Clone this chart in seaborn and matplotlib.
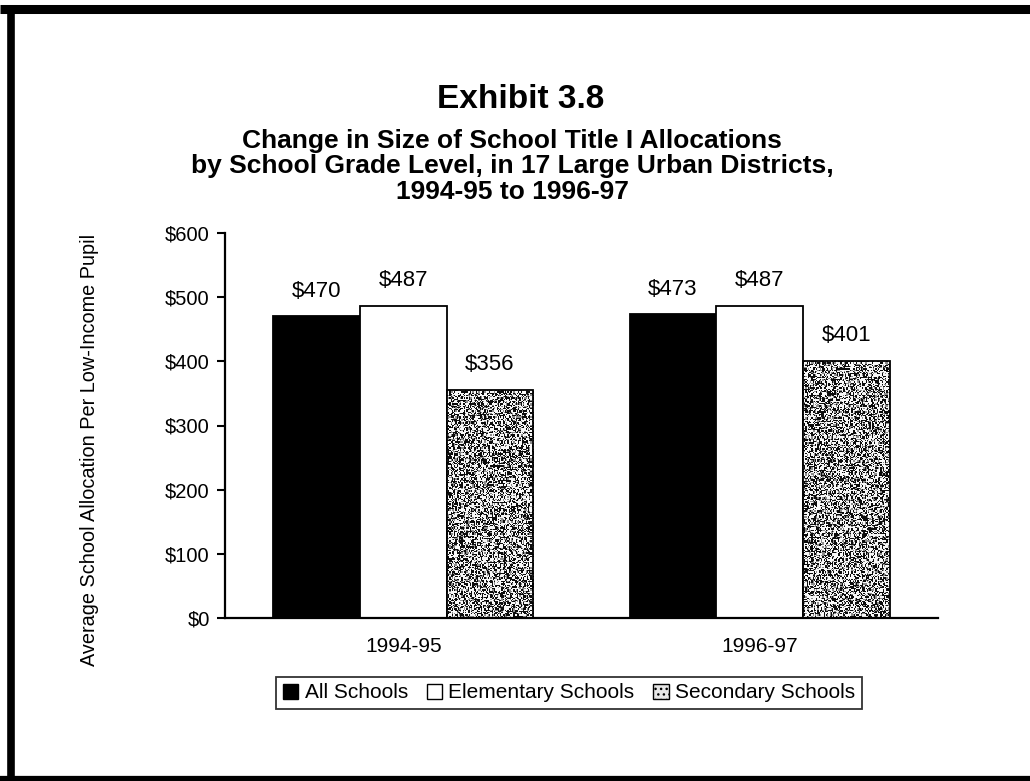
import numpy as np
import pandas as pd
import matplotlib
matplotlib.use("Agg")
import matplotlib.pyplot as plt
from matplotlib.lines import Line2D
from matplotlib.patches import Patch
import seaborn as sns

# Chart data
years = ["1994-95", "1996-97"]
school_types = ["All Schools", "Elementary Schools", "Secondary Schools"]
all_schools = [470, 473]
elementary = [487, 487]
secondary = [356, 401]
y_ticks = [0, 100, 200, 300, 400, 500, 600]

df = pd.DataFrame({
    "Year": years * 3,
    "Type": [school_types[0]] * 2 + [school_types[1]] * 2 + [school_types[2]] * 2,
    "Value": all_schools + elementary + secondary,
})

sns.set_theme(style="white")
plt.rcParams["font.family"] = ["Liberation Sans", "DejaVu Sans"]
plt.rcParams.update({"text.color": "black", "axes.labelcolor": "black",
                     "xtick.color": "black", "ytick.color": "black"})

W, H = 1030, 781
fig = plt.figure(figsize=(W / 100, H / 100), dpi=100)
ax = fig.add_axes([225 / W, 1 - 618 / H, (938 - 225) / W, (618 - 233) / H])

palette = {school_types[0]: "black", school_types[1]: "white", school_types[2]: "#b8b8b8"}
sns.barplot(data=df, x="Year", y="Value", hue="Type", hue_order=school_types,
            order=years, palette=palette, width=0.73, edgecolor="black",
            linewidth=1.3, saturation=1, ax=ax, legend=False)

# Fine speckled grey texture for the secondary-school bars
rng = np.random.default_rng(7)
n_per = len(years)
for i, bar in enumerate(ax.patches):
    if i // n_per == 2:
        x0, y0 = bar.get_x(), bar.get_y()
        w, h = bar.get_width(), bar.get_height()
        rows = int(h * 0.642 / 1.2) + 2
        noise = rng.random((rows, 72))
        tex = np.where(noise < 0.40, 0.05, np.where(noise < 0.55, 0.55, 0.97))
        im = ax.imshow(tex, cmap="gray", vmin=0, vmax=1, extent=(x0, x0 + w, y0, y0 + h),
                       aspect="auto", interpolation="nearest", zorder=bar.get_zorder() + 0.1)
        im.set_clip_path(bar)
        bar.set_facecolor("none")
        bar.set_zorder(bar.get_zorder() + 0.2)

# Value labels above each bar
for i, bar in enumerate(ax.patches):
    val = bar.get_height()
    ax.text(bar.get_x() + bar.get_width() / 2, val + 39, f"${val:.0f}",
            ha="center", va="center", fontsize=16)

ax.set_xlim(-0.5, 1.5)
ax.set_ylim(0, 600)
ax.set_yticks(y_ticks)
ax.set_yticklabels([f"${v}" for v in y_ticks], fontsize=14.5)
ax.tick_params(axis="y", direction="out", length=6, width=1.5, left=True, pad=5)
ax.tick_params(axis="x", length=0, pad=14, labelsize=15)
ax.set_xlabel("")
ax.set_ylabel("")
for s in ["top", "right"]:
    ax.spines[s].set_visible(False)
for s in ["left", "bottom"]:
    ax.spines[s].set_color("black")
    ax.spines[s].set_linewidth(1.6)

fig.text(90 / W, 1 - 450 / H, "Average School Allocation Per Low-Income Pupil",
         rotation=90, ha="center", va="center", fontsize=14.3)

# Titles
fig.text(521 / W, 1 - 100 / H, "Exhibit 3.8", ha="center", va="center",
         fontsize=24, fontweight="bold")
subtitle = ["Change in Size of School Title I Allocations",
            "by School Grade Level, in 17 Large Urban Districts,",
            "1994-95 to 1996-97"]
for k, line in enumerate(subtitle):
    fig.text(512 / W, 1 - (141 + 25.5 * k) / H, line, ha="center", va="center",
             fontsize=19, fontweight="bold")

# Legend
handles = [
    Patch(facecolor="black", edgecolor="black", linewidth=1),
    Patch(facecolor="white", edgecolor="black", linewidth=1),
    Patch(facecolor="#e6e6e6", edgecolor="black", linewidth=1, hatch="..."),
]
leg = fig.legend(handles, school_types, loc="center", bbox_to_anchor=(569 / W, 1 - 693 / H),
                 ncol=3, frameon=True, fancybox=False, edgecolor="black", fontsize=15,
                 handlelength=0.75, handleheight=0.75, handletextpad=0.3, columnspacing=0.9,
                 borderpad=0.3, borderaxespad=0)
leg.get_frame().set_linewidth(1.3)

# Page frame
fig.add_artist(Line2D([0, 1], [1 - 9 / H, 1 - 9 / H], color="black", linewidth=6.5,
                      transform=fig.transFigure, solid_capstyle="butt"))
fig.add_artist(Line2D([11 / W, 11 / W], [0, 1 - 5 / H], color="black", linewidth=5.5,
                      transform=fig.transFigure, solid_capstyle="butt"))
fig.add_artist(Line2D([0, 1], [2.5 / H, 2.5 / H], color="black", linewidth=4.5,
                      transform=fig.transFigure, solid_capstyle="butt"))

fig.savefig("out.png", dpi=100, facecolor="white")
